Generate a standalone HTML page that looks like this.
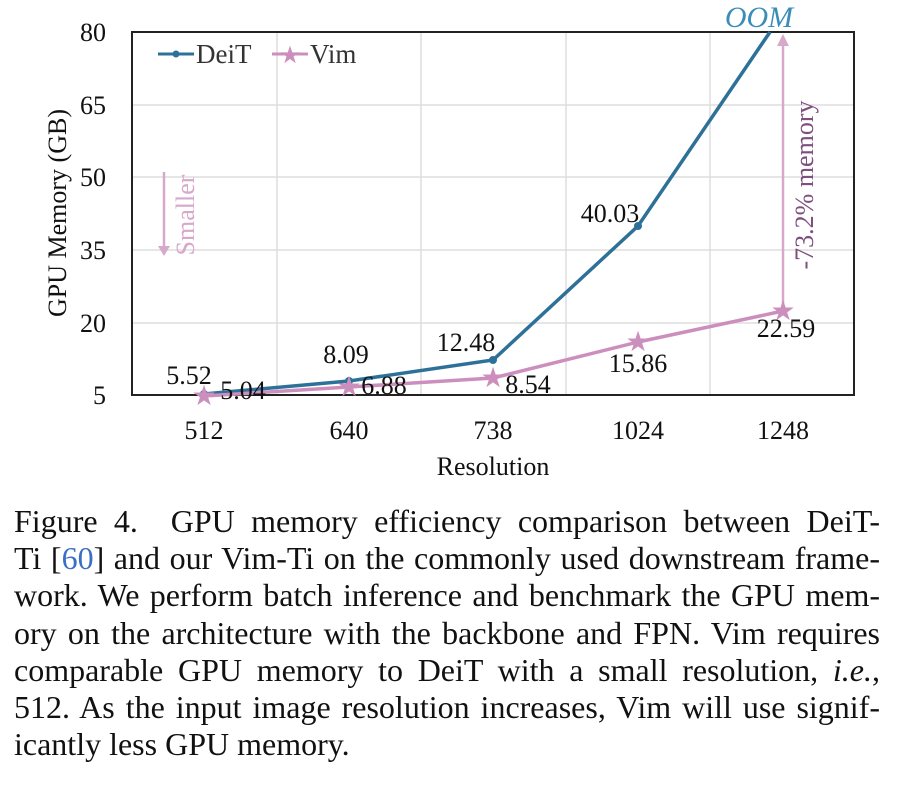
<!DOCTYPE html>
<html><head><style>
body{margin:0;background:#fff;width:897px;height:786px;overflow:hidden;font-family:"Liberation Serif",serif;}
.cap{position:absolute;left:14px;width:866px;font-size:32px;line-height:37.2px;color:#111;}
.cap div{text-align:justify;text-align-last:justify;white-space:nowrap;height:37.2px;}
.cap div.last{text-align-last:left;}
</style></head><body>
<svg width="897" height="490" style="position:absolute;left:0;top:0" font-family="Liberation Serif, serif">
<g stroke="#dddddd" stroke-width="1.5">
<line x1="277" y1="32" x2="277" y2="395"/><line x1="421" y1="32" x2="421" y2="395"/>
<line x1="566" y1="32" x2="566" y2="395"/><line x1="710" y1="32" x2="710" y2="395"/>
<line x1="132" y1="105" x2="854" y2="105"/><line x1="132" y1="177" x2="854" y2="177"/>
<line x1="132" y1="250" x2="854" y2="250"/><line x1="132" y1="323" x2="854" y2="323"/>
</g>
<rect x="132" y="32" width="722" height="363" fill="none" stroke="#222" stroke-width="2"/>
<g font-size="26" fill="#111" text-anchor="end">
<text x="106" y="41">80</text><text x="106" y="114">65</text><text x="106" y="186">50</text>
<text x="106" y="259">35</text><text x="106" y="332">20</text><text x="106" y="404">5</text>
</g>
<g font-size="26" fill="#111" text-anchor="middle">
<text x="204" y="439">512</text><text x="349" y="439">640</text><text x="493" y="439">738</text>
<text x="638" y="439">1024</text><text x="783" y="439">1248</text>
<text x="493" y="475">Resolution</text>
</g>
<text transform="translate(66,213) rotate(-90)" font-size="26" text-anchor="middle" fill="#111">GPU Memory (GB)</text>
<line x1="158" y1="54" x2="194" y2="54" stroke="#2e7198" stroke-width="3"/><circle cx="176" cy="54" r="3.5" fill="#2e7198"/>
<text x="196" y="63" font-size="27" fill="#333">DeiT</text>
<line x1="272" y1="54" x2="308" y2="54" stroke="#cc8fbd" stroke-width="3"/>
<text x="290" y="63" font-size="24" fill="#cc8fbd" text-anchor="middle">★</text>
<text x="310" y="63" font-size="27" fill="#333">Vim</text>
<line x1="164" y1="172" x2="164" y2="250" stroke="#d8a8cb" stroke-width="2.5"/>
<polygon points="158,246 170,246 164,256" fill="#d8a8cb"/>
<text transform="translate(194,215) rotate(-90)" font-size="26" fill="#d8a8cb" text-anchor="middle">Smaller</text>
<polyline points="204,394 349,381 493,360 638,226 770,32" fill="none" stroke="#2e7198" stroke-width="3.5"/>
<g fill="#2e7198"><circle cx="204" cy="394" r="4"/><circle cx="349" cy="381" r="4"/><circle cx="493" cy="360" r="4"/><circle cx="638" cy="226" r="4"/></g>
<line x1="783" y1="311" x2="783" y2="42" stroke="#d8a8cb" stroke-width="2.5"/>
<polygon points="777,46 789,46 783,34" fill="#d8a8cb"/>
<polyline points="204,396 349,387 493,378 638,342 783,311" fill="none" stroke="#cc8fbd" stroke-width="3.5"/>
<g fill="#cc8fbd" font-size="28" text-anchor="middle">
<text x="204" y="405">★</text><text x="349" y="396">★</text><text x="493" y="387">★</text><text x="638" y="351">★</text><text x="783" y="320">★</text>
</g>
<g font-size="26" fill="#111" text-anchor="middle">
<text x="189" y="384">5.52</text><text x="243" y="399">5.04</text>
<text x="346" y="363">8.09</text><text x="384" y="394">6.88</text>
<text x="466" y="351">12.48</text><text x="528" y="393">8.54</text>
<text x="610" y="222">40.03</text><text x="638" y="372">15.86</text>
<text x="786" y="337">22.59</text>
</g>
<text x="759" y="27" font-size="30" font-style="italic" fill="#3a8db8" text-anchor="middle">OOM</text>
<text transform="translate(813,185) rotate(-90)" font-size="26" fill="#7d4f7d" text-anchor="middle">-73.2% memory</text>
</svg>
<div class="cap" style="top:503px">
<div>Figure 4.&nbsp; GPU memory efficiency comparison between DeiT-</div>
<div>Ti [<span style="color:#3a6fc4">60</span>] and our Vim-Ti on the commonly used downstream frame-</div>
<div>work. We perform batch inference and benchmark the GPU mem-</div>
<div>ory on the architecture with the backbone and FPN. Vim requires</div>
<div>comparable GPU memory to DeiT with a small resolution, <i>i.e.</i>,</div>
<div>512. As the input image resolution increases, Vim will use signif-</div>
<div class="last">icantly less GPU memory.</div>
</div>
</body></html>
